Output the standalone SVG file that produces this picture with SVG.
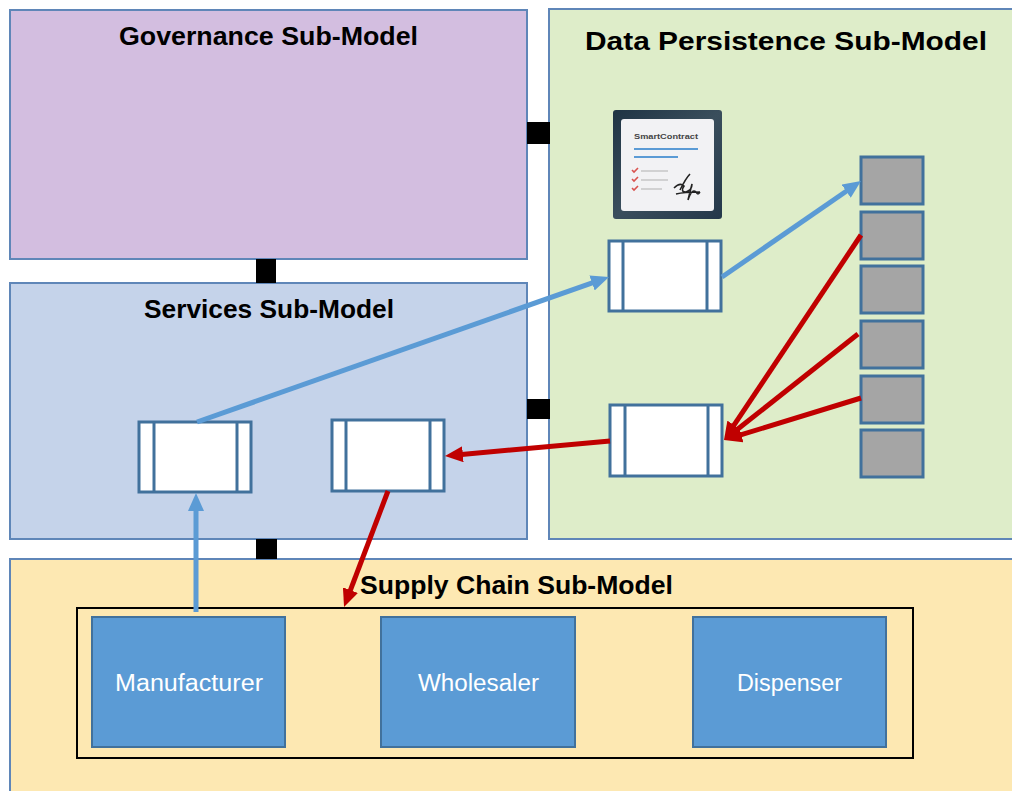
<svg xmlns="http://www.w3.org/2000/svg" width="1012" height="791" viewBox="0 0 1012 791">
<style>
.panel{stroke:#5F86B8;stroke-width:2}
.title{font-family:"Liberation Sans",Arial,sans-serif;font-weight:bold;font-size:26px;fill:#000}
.proc{fill:#fff;stroke:#41719C;stroke-width:3}
.pline{stroke:#41719C;stroke-width:3}
.store{fill:#A5A5A5;stroke:#41719C;stroke-width:3}
.actor{fill:#5B9BD5;stroke:#41719C;stroke-width:2}
.alabel{font-family:"Liberation Sans",Arial,sans-serif;font-size:23px;fill:#fff;text-anchor:middle}
.port{fill:#000}
.blue{stroke:#5B9BD5;stroke-width:5;fill:none;marker-end:url(#ab)}
.red{stroke:#C00000;stroke-width:5;fill:none;marker-end:url(#ar)}
</style>
<defs>
<marker id="ab" markerUnits="userSpaceOnUse" markerWidth="18" markerHeight="16" viewBox="0 0 18 16" refX="4" refY="8" orient="auto"><path d="M0,0 L18,8 L0,16 z" fill="#5B9BD5"/></marker>
<marker id="ar" markerUnits="userSpaceOnUse" markerWidth="18" markerHeight="16" viewBox="0 0 18 16" refX="4" refY="8" orient="auto"><path d="M0,0 L18,8 L0,16 z" fill="#C00000"/></marker>
<linearGradient id="icbg" x1="0" y1="0" x2="1" y2="1"><stop offset="0" stop-color="#1F3444"/><stop offset="0.5" stop-color="#3A4E5C"/><stop offset="1" stop-color="#24384A"/></linearGradient>
</defs>
<rect width="1012" height="791" fill="#fff"/>

<g id="governance">
<rect class="panel" x="10" y="10" width="517" height="249" fill="#D3BEE0"/>
<text class="title" x="119" y="45" textLength="299" lengthAdjust="spacingAndGlyphs">Governance Sub-Model</text>
</g>
<g id="data-persistence">
<rect class="panel" x="549" y="9" width="470" height="530" fill="#DEEDC9"/>
<text class="title" x="585" y="50" textLength="402" lengthAdjust="spacingAndGlyphs">Data Persistence Sub-Model</text>
</g>
<g id="services">
<rect class="panel" x="10" y="283" width="517" height="256" fill="#C5D3EA"/>
<text class="title" x="144" y="318" textLength="250" lengthAdjust="spacingAndGlyphs">Services Sub-Model</text>
</g>
<g id="supply-chain">
<rect class="panel" x="10" y="559" width="1010" height="240" fill="#FDE8B2"/>
<text class="title" x="360" y="594" textLength="313" lengthAdjust="spacingAndGlyphs">Supply Chain Sub-Model</text>
<rect x="77" y="608" width="836" height="150" fill="none" stroke="#000" stroke-width="2"/>
</g>

<g id="ports">
<rect class="port" x="527" y="122" width="23" height="22"/>
<rect class="port" x="256" y="259" width="20" height="24"/>
<rect class="port" x="527" y="399" width="23" height="20"/>
<rect class="port" x="256" y="539" width="21" height="20"/>
</g>

<g id="smart-contract">
<rect x="613" y="110" width="109" height="109" rx="3" fill="url(#icbg)"/>
<rect x="621" y="119" width="93" height="92" rx="3" fill="#F2F2F4"/>
<text x="634" y="139" font-family="Liberation Sans,Arial,sans-serif" font-size="6.5" font-weight="bold" fill="#444" textLength="64" lengthAdjust="spacingAndGlyphs">SmartContract</text>
<line x1="634" y1="149" x2="698" y2="149" stroke="#5B9BD5" stroke-width="2"/>
<line x1="634" y1="157" x2="678" y2="157" stroke="#5B9BD5" stroke-width="2"/>
<g stroke="#D9534F" stroke-width="1.6" fill="none">
<path d="M632,170 l2,2 l4,-4"/>
<path d="M632,179 l2,2 l4,-4"/>
<path d="M632,188 l2,2 l4,-4"/>
</g>
<g stroke="#BBBBBB" stroke-width="1.2">
<line x1="641" y1="171" x2="668" y2="171"/>
<line x1="641" y1="180" x2="668" y2="180"/>
<line x1="641" y1="189" x2="662" y2="189"/>
</g>
<path d="M674,188 q6,-6 10,-2 q-4,6 2,6 q6,-2 6,-8 l-4,16 q4,-12 8,-8 q2,4 4,0 M680,190 q6,-12 10,-16 M676,194 q8,-2 24,-2" stroke="#222" stroke-width="1.6" fill="none"/>
</g>

<g id="dp-process-1">
<rect class="proc" x="609" y="241" width="112" height="70"/>
<line class="pline" x1="623" y1="241" x2="623" y2="311"/>
<line class="pline" x1="707" y1="241" x2="707" y2="311"/>
</g>
<g id="dp-process-2">
<rect class="proc" x="610" y="405" width="112" height="71"/>
<line class="pline" x1="625" y1="405" x2="625" y2="476"/>
<line class="pline" x1="708" y1="405" x2="708" y2="476"/>
</g>
<g id="svc-process-1">
<rect class="proc" x="139" y="422" width="112" height="70"/>
<line class="pline" x1="154" y1="422" x2="154" y2="492"/>
<line class="pline" x1="237" y1="422" x2="237" y2="492"/>
</g>
<g id="svc-process-2">
<rect class="proc" x="332" y="420" width="112" height="71"/>
<line class="pline" x1="346" y1="420" x2="346" y2="491"/>
<line class="pline" x1="430" y1="420" x2="430" y2="491"/>
</g>

<g id="ledger">
<rect class="store" x="861" y="157" width="62" height="47"/>
<rect class="store" x="861" y="212" width="62" height="47"/>
<rect class="store" x="861" y="266" width="62" height="47"/>
<rect class="store" x="861" y="321" width="62" height="47"/>
<rect class="store" x="861" y="376" width="62" height="47"/>
<rect class="store" x="861" y="430" width="62" height="47"/>
</g>

<g id="manufacturer">
<rect class="actor" x="92" y="617" width="193" height="130"/>
<text class="alabel" x="189" y="691" textLength="148" lengthAdjust="spacingAndGlyphs">Manufacturer</text>
</g>
<g id="wholesaler">
<rect class="actor" x="381" y="617" width="194" height="130"/>
<text class="alabel" x="478.5" y="691" textLength="121" lengthAdjust="spacingAndGlyphs">Wholesaler</text>
</g>
<g id="dispenser">
<rect class="actor" x="693" y="617" width="193" height="130"/>
<text class="alabel" x="789.5" y="691" textLength="105" lengthAdjust="spacingAndGlyphs">Dispenser</text>
</g>

<g id="connectors">
<line class="blue" x1="197" y1="422" x2="595.8" y2="281.6"/>
<line class="blue" x1="722" y1="277" x2="849.5" y2="189"/>
<line class="blue" x1="196" y1="612" x2="196" y2="507"/>
<line class="red" x1="861" y1="235" x2="731.8" y2="428.4"/>
<line class="red" x1="858" y1="334" x2="735" y2="431.3"/>
<line class="red" x1="861" y1="398" x2="737.4" y2="435.9"/>
<line class="red" x1="610" y1="441" x2="458.9" y2="454.7"/>
<line class="red" x1="388" y1="491" x2="349" y2="593.9"/>
</g>
</svg>
